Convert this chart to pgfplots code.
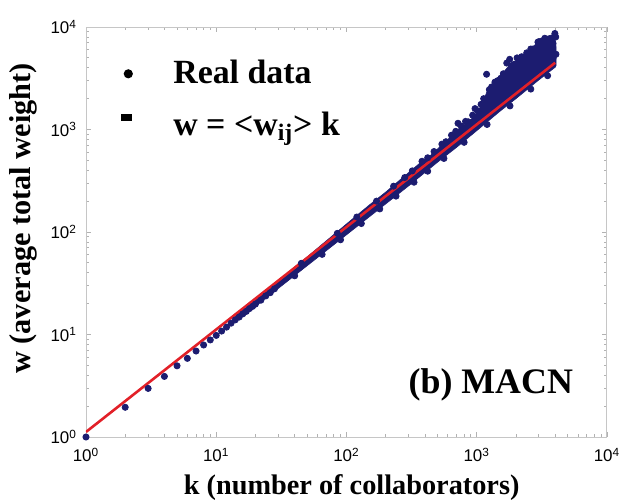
\documentclass[border=0pt]{standalone}
\usepackage{fontspec}
\setmainfont{Liberation Serif}
\newfontfamily\sansf{Liberation Sans}
\usepackage{pgfplots}
\pgfplotsset{compat=1.18}
\definecolor{navy}{RGB}{28,28,112}
\definecolor{fitred}{RGB}{226,32,40}
\begin{document}
\begin{tikzpicture}
\useasboundingbox (-43bp,-32bp) rectangle (270bp,218.5bp);
\begin{axis}[
  at={(0,0)}, anchor=south west,
  scale only axis, width=260.5bp, height=205bp,
  xmode=log, ymode=log,
  xmin=1, xmax=10000, ymin=1, ymax=10000,
  xtick={1,10,100,1000,10000},
  ytick={1,10,100,1000,10000},
  xticklabels={10\textsuperscript{0},10\textsuperscript{1},10\textsuperscript{2},10\textsuperscript{3},10\textsuperscript{4}},
  yticklabels={10\textsuperscript{0},10\textsuperscript{1},10\textsuperscript{2},10\textsuperscript{3},10\textsuperscript{4}},
  minor xtick={2,3,4,5,6,7,8,9,20,30,40,50,60,70,80,90,200,300,400,500,600,700,800,900,2000,3000,4000,5000,6000,7000,8000,9000},
  minor ytick={2,3,4,5,6,7,8,9,20,30,40,50,60,70,80,90,200,300,400,500,600,700,800,900,2000,3000,4000,5000,6000,7000,8000,9000},
  tick label style={font=\sansf\fontsize{8.5}{10}\selectfont},
  xticklabel style={yshift=-2bp},
  yticklabel style={xshift=-1bp},
  axis line style={gray!45, line width=0.5bp},
  every tick/.style={gray!60, line width=0.4bp},
  major tick length=2.5bp, minor tick length=1.5bp,
  tick pos=both, tick align=inside,
  xlabel={k (number of collaborators)},
  ylabel={w (average total weight)},
  xlabel style={font=\fontsize{14.2}{16}\selectfont\bfseries, anchor=center, at={(axis description cs:0.51,-0.124)}},
  ylabel style={font=\fontsize{15.2}{17}\selectfont\bfseries, anchor=center, at={(axis description cs:-0.121,0.533)}},
  legend style={at={(axis description cs:0.067,0.921)}, anchor=north west, draw=none, fill=none, inner sep=0pt,
    font=\fontsize{17}{20}\selectfont\bfseries, row sep=9.9bp, column sep=0pt,
    nodes={text height=12bp, text depth=4bp, inner sep=0pt}},
  legend cell align=left,
]
\addlegendimage{legend image code/.code={\path[draw=none, fill=none] (0bp,-3bp) rectangle (25.5bp,6bp); \fill[black, draw=none] (3bp,1bp) circle (2.3bp);}}
\addlegendentry{Real data}
\addlegendimage{legend image code/.code={\path[draw=none, fill=none] (0bp,-3bp) rectangle (25.5bp,6bp); \fill[black, draw=none] (-0.5bp,3.3bp) rectangle (4.8bp,6.6bp);}}
\addlegendentry{w = <w\textsubscript{ij}> k}

% dense cloud envelope
\addplot[fill=navy, draw=navy, line width=0.3bp, forget plot] coordinates {
(14,15.7) (20,22.4) (30,33.6) (50,57.3) (70,82.0) (100,119.8) (150,183.8) (200,245)
(257,322) (366,470) (450,570) (522,680) (600,800) (743,1040) (887,1220) (1000,1450)
(1059,1640) (1150,2050) (1200,2350) (1508,3300) (1800,4300) (2148,5000) (2500,5900)
(2800,6700) (3340,8000) (3900,8500) (4050,7000) (4080,5200)
(4060,4200) (4000,4050) (3000,3050) (2000,2000) (1500,1500) (1000,975) (700,670)
(500,480) (300,282) (200,188) (100,94) (50,47) (30,28.2) (20,18.8) (14,13.2) (14,15.7)
};

% individual points
\addplot[only marks, mark=*, mark size=1.55pt, navy, forget plot] coordinates {
(1,1.0) (2,1.95) (3,2.98) (4,3.9) (5,4.95) (6,5.85) (7,6.9) (8,7.9) (9,8.85) (10,9.8)
(11,10.8) (12,11.8) (13,12.9) (14,13.9) (15,14.8) (16,15.9) (17,16.8) (18,17.9) (19,18.8)
(20,19.8) (22,21.6) (24,23.8) (26,25.6) (28,27.9)
(40,37.4) (65,60.5) (90,84) (130,121) (180,168) (240,224) (330,306) (420,392) (560,522)
(800,750) (1200,1120) (1800,1700) (2600,2480) (3500,3350)
(45,49.5) (85,97) (120,140) (170,200) (230,280) (280,340) (320,395) (380,490) (420,530)
(470,610) (540,720) (580,760) (640,880) (690,960) (718,1150) (760,1080) (820,1200)
(860,1190) (930,1380) (970,1600) (1020,1520) (1080,1760) (1130,2000) (1190,3460)
(1250,2450) (1300,2600) (1380,2900) (1450,3000) (1530,3160) (1600,3500) (1700,4450)
(1790,4840) (1860,4200) (1940,4330) (2040,5000) (2210,5130) (2300,5100) (2420,5600)
(2600,6100) (2700,6100) (2950,7130) (3000,7190) (3150,7300) (3330,7770) (3440,7130)
(3600,7600) (3700,7470) (3980,8650) (4040,8000) (4058,5420) (3850,6900)
};

% fit line
\addplot[fitred, line width=1.3bp, forget plot] coordinates {(1,1.12) (4000,4480)};

\node[font=\fontsize{18}{20}\selectfont\bfseries, anchor=base] at (axis description cs:0.777,0.107) {(b) MACN};
\end{axis}
\end{tikzpicture}
\end{document}
